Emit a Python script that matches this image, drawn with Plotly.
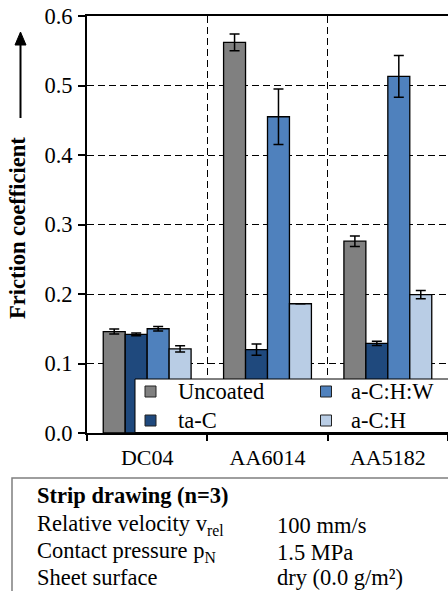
import plotly.graph_objects as go

categories = ["DC04", "AA6014", "AA5182"]
series_names = ["Uncoated", "ta-C", "a-C:H:W", "a-C:H"]
uncoated = [0.146, 0.562, 0.276]
uncoated_err = [0.0035, 0.012, 0.0075]
tac = [0.142, 0.120, 0.129]
tac_err = [0.002, 0.008, 0.003]
achw = [0.150, 0.455, 0.513]
achw_err = [0.0033, 0.040, 0.030]
ach = [0.121, 0.186, 0.199]
ach_err = [0.0045, 0.0, 0.006]
colors = ["#808080", "#1F497D", "#4F81BD", "#B9CDE5"]
y_ticks = [0.0, 0.1, 0.2, 0.3, 0.4, 0.5, 0.6]

FONT = "Liberation Serif"
W, H = 448, 591
ML, MR, MT, MB = 87, 0, 16, 158
PW = W - ML - MR
PH = H - MT - MB


def px_x(px):
    return (px - ML) / PW


def px_y(py):
    return (H - MB - py) / PH


fig = go.Figure()
for name, vals, errs, col in zip(series_names, [uncoated, tac, achw, ach],
                                 [uncoated_err, tac_err, achw_err, ach_err], colors):
    fig.add_trace(go.Bar(
        x=categories, y=vals, name=name,
        marker=dict(color=col, line=dict(color="black", width=1.3)),
        error_y=dict(type="data", array=errs, visible=True, color="black",
                     thickness=1.5, width=5),
    ))

fig.update_layout(
    width=W, height=H,
    margin=dict(l=ML, r=MR, t=MT, b=MB, autoexpand=False),
    paper_bgcolor="white", plot_bgcolor="white",
    font=dict(family=FONT, size=22, color="black"),
    barmode="group", bargap=0.27, bargroupgap=0,
    showlegend=False,
    xaxis=dict(
        type="category", range=[-0.5, 2.5], tickson="boundaries",
        ticks="outside", ticklen=6, tickwidth=2, tickcolor="black",
        showline=True, linewidth=2, linecolor="black", mirror=True,
        showgrid=True, gridcolor="black", gridwidth=1.3, griddash="7px,4px",
        tickfont=dict(family=FONT, size=22), ticklabelstandoff=4,
    ),
    yaxis=dict(
        range=[0, 0.6], tickvals=y_ticks, tickformat=".1f",
        ticks="outside", ticklen=7, tickwidth=2, tickcolor="black",
        showline=True, linewidth=2, linecolor="black",
        showgrid=True, gridcolor="black", gridwidth=1.3, griddash="7px,4px",
        zeroline=False, tickfont=dict(family=FONT, size=22.5), ticklabelstandoff=1,
    ),
)

# legend box (two columns, drawn over the bars like the reference)
fig.add_shape(type="rect", xref="paper", yref="paper", layer="above",
              x0=px_x(135), x1=px_x(470), y0=px_y(432.5), y1=px_y(379),
              line=dict(color="black", width=1), fillcolor="white")
for i, (name, col) in enumerate(zip(series_names, colors)):
    c, r = i // 2, i % 2
    cx = 150.5 + c * 175.5
    cy = 391.5 + r * 29
    fig.add_shape(type="rect", xref="paper", yref="paper", layer="above",
                  x0=px_x(cx - 5.5), x1=px_x(cx + 5.5),
                  y0=px_y(cy + 5.5), y1=px_y(cy - 5.5),
                  line=dict(color="#222222", width=1), fillcolor=col)
    fig.add_annotation(text=name, xref="paper", yref="paper",
                       x=px_x(176 + c * 173), y=px_y(cy), showarrow=False,
                       xanchor="left", yanchor="middle",
                       font=dict(family=FONT, size=22.5))

# y-axis title and arrow
fig.add_annotation(text="<b>Friction coefficient</b>", xref="paper", yref="paper",
                   x=px_x(18), y=px_y(228), textangle=-90, showarrow=False,
                   font=dict(family=FONT, size=22.5), xanchor="center", yanchor="middle")
fig.add_shape(type="line", xref="paper", yref="paper",
              x0=px_x(20.5), x1=px_x(20.5), y0=px_y(118), y1=px_y(44),
              line=dict(color="black", width=2))
ax_l, ax_r, ax_c = px_x(15), px_x(26), px_x(20.5)
ay_b, ay_t = px_y(45), px_y(32)
fig.add_shape(type="path", xref="paper", yref="paper",
              path=f"M {ax_l},{ay_b} L {ax_c},{ay_t} L {ax_r},{ay_b} Z",
              line=dict(color="black", width=1), fillcolor="black")

# info box
fig.add_shape(type="rect", xref="paper", yref="paper",
              x0=px_x(12), x1=px_x(460), y0=px_y(478), y1=px_y(600),
              line=dict(color="#7f7f7f", width=1.5), fillcolor="rgba(0,0,0,0)")
rows = [
    ("<b>Strip drawing (n=3)</b>", "", 495),
    ("Relative velocity v<sub>rel</sub>", "100 mm/s", 525),
    ("Contact pressure p<sub>N</sub>", "1.5 MPa", 552),
    ("Sheet surface", "dry (0.0 g/m²)", 577),
]
for left, right, yy in rows:
    fig.add_annotation(text=left, xref="paper", yref="paper", x=px_x(35), y=px_y(yy),
                       showarrow=False, xanchor="left", yanchor="middle",
                       font=dict(family=FONT, size=22.5))
    if right:
        fig.add_annotation(text=right, xref="paper", yref="paper", x=px_x(275), y=px_y(yy),
                           showarrow=False, xanchor="left", yanchor="middle",
                           font=dict(family=FONT, size=22.5))

fig.write_html("out.html")
